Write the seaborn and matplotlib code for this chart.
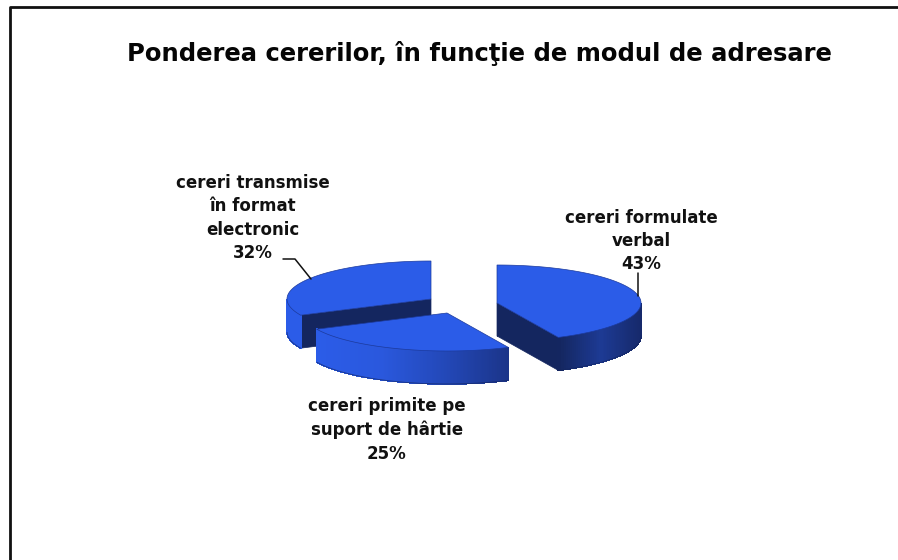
import numpy as np
import matplotlib
matplotlib.use("Agg")
import matplotlib.pyplot as plt
from matplotlib.patches import Polygon
import seaborn as sns

title = "Ponderea cererilor, în funcţie de modul de adresare"
labels = ["cereri formulate\nverbal", "cereri primite pe\nsuport de hârtie", "cereri transmise\nîn format\nelectronic"]
shares = [43, 25, 32]

# pixel layout of the exploded pie
centers = [(497, 303), (447, 313), (431, 299)]
label_pos = [(641, 241), (387, 430), (253, 218)]
rx, ry, depth = 144, 38, 33
top_col = "#2b5ce8"
dark_col = "#14265f"
side_cols = [["#14265f", "#1d3a94", "#16296a"],
             ["#2b5ce8", "#2a58dd", "#2348b8", "#1b3488"],
             ["#2b5ce8", "#2b5ce8"]]

sns.set_theme(style="white")
plt.rcParams["font.family"] = ["DejaVu Sans"]

fig, ax = plt.subplots(figsize=(8.98, 5.6), dpi=100)
fig.subplots_adjust(0, 0, 1, 1)
ax.set_xlim(0, 898)
ax.set_ylim(560, 0)
ax.axis("off")

# frame of the chart, only top and left show
ax.plot([9.5, 9.5, 898], [560, 7, 7], color="#111111", lw=2)


def rim(c, a):
    # a in degrees, clockwise from 12 o'clock
    t = np.radians(a)
    return c[0] + rx * np.sin(t), c[1] - ry * np.cos(t)


def draw_slice(i, a0, a1):
    c = centers[i]
    angs = np.linspace(a0, a1, 160)
    xs, ys = rim(c, angs)
    z = {2: 2, 0: 10, 1: 20}[i]
    # radial walls that can be seen
    for a in (a0, a1):
        x, y = rim(c, a)
        if i == 0 or (i == 2 and a == a0):
            ax.add_patch(Polygon([c, (x, y), (x, y + depth), (c[0], c[1] + depth)],
                                 fc=dark_col, ec=dark_col, lw=0.5, zorder=z))
    # outer side, shaded strip by strip
    front = np.cos(np.radians(angs)) < 0
    if front.any():
        fx = xs[front]
        pal = sns.blend_palette(side_cols[i], 256)
        xlo, xhi = fx.min(), fx.max()
        for k in range(len(xs) - 1):
            if not (front[k] and front[k + 1]):
                continue
            f = (xs[k] + xs[k + 1]) / 2
            col = pal[int((f - xlo) / (xhi - xlo + 1e-9) * 255)]
            ax.add_patch(Polygon([(xs[k], ys[k]), (xs[k + 1], ys[k + 1]),
                                  (xs[k + 1], ys[k + 1] + depth), (xs[k], ys[k] + depth)],
                                 fc=col, ec=col, lw=0.5, antialiased=False, zorder=z))
        ax.plot(xs[front], ys[front] + depth, color=dark_col, lw=0.6, alpha=0.7, zorder=z)
    # top face
    pts = [c] + list(zip(xs, ys))
    ax.add_patch(Polygon(pts, fc=top_col, ec="#1c3a9c", lw=0.5, zorder=z + 1))


start = 0
for i, s in enumerate(shares):
    span = s / sum(shares) * 360
    draw_slice(i, start, start + span)
    lx, ly = label_pos[i]
    ax.text(lx, ly, f"{labels[i]}\n{s}%", ha="center", va="center", fontsize=12,
            fontweight="bold", color="#111111", linespacing=1.38, zorder=40)
    start += span

# leader lines
ax.plot([283, 295, 311], [259, 259, 279], color="#111111", lw=1.1, zorder=30)
ax.plot([638, 638], [273, 296], color="#111111", lw=1.1, zorder=30)

ax.text(479, 53, title, ha="center", va="center", fontsize=17.5, fontweight="bold", color="#050505")

fig.savefig("out.png", dpi=100)
